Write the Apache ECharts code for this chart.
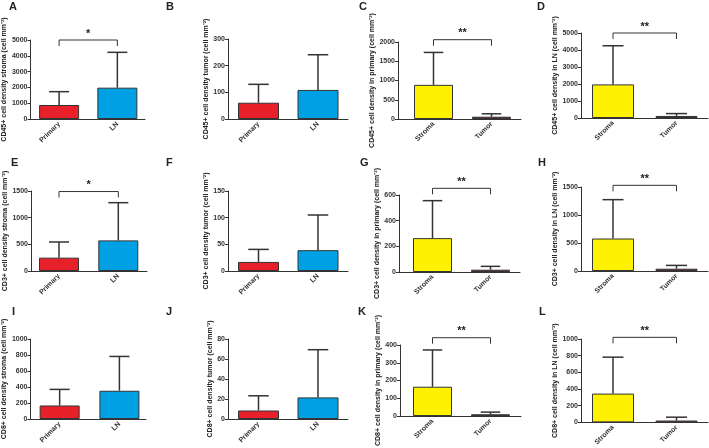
<!DOCTYPE html>
<html>
<head>
<meta charset="utf-8">
<script src="https://cdn.jsdelivr.net/npm/echarts@6/dist/echarts.min.js"></script>
<style>html,body{margin:0;padding:0;background:#fff}#c{width:709px;height:448px}</style>
</head>
<body>
<div id="c"></div>
<script>
// ---- data ----
const panelLetters = ['A','B','C','D','E','F','G','H','I','J','K','L'];
const catsSite = ['Primary', 'LN'];
const catsComp = ['Stroma', 'Tumor'];
const panelCats = [catsSite, catsSite, catsComp, catsComp, catsSite, catsSite, catsComp, catsComp, catsSite, catsSite, catsComp, catsComp];
const yTitles = [
  'CD45+ cell density stroma (cell mm⁻²)', 'CD45+ cell density tumor (cell mm⁻²)',
  'CD45+ cell density in primary (cell mm⁻²)', 'CD45+ cell density in LN (cell mm⁻²)',
  'CD3+ cell density stroma (cell mm⁻²)', 'CD3+ cell density tumor (cell mm⁻²)',
  'CD3+ cell density in primary (cell mm⁻²)', 'CD3+ cell density in LN (cell mm⁻²)',
  'CD8+ cell density stroma (cell mm⁻²)', 'CD8+ cell density tumor (cell mm⁻²)',
  'CD8+ cell density in primary (cell mm⁻²)', 'CD8+ cell density in LN (cell mm⁻²)'
];
const yMax = [5000, 300, 2000, 5000, 1500, 150, 600, 1500, 1000, 80, 400, 1000];
const yInterval = [1000, 100, 500, 1000, 500, 50, 200, 500, 200, 20, 100, 200];
const means = [[886, 1983], [61, 109], [887, 60], [1977, 120], [250, 574], [17, 39], [264, 18], [580, 41], [169, 353], [8.5, 21.6], [165, 10], [345, 22]];
const errTops = [[1730, 4220], [130, 241], [1729, 135], [4250, 260], [544, 1281], [40.5, 105], [556, 44], [1274, 100], [370, 782], [23.2, 69.3], [372, 22], [782, 62]];
const sigLevel = [5000, null, 2060, 5000, 1490, null, 652, 1530, null, null, 441, 1020];
const sigText = ['*', '', '**', '**', '*', '', '**', '**', '', '', '**', '**'];

// ---- layout (pixels) ----
const layout = [
  {left:29, right:145, c0:58, c1:117, top:40, bottom:119, barW:40, gap:19},
  {left:228, right:348, c0:258.5, c1:318, top:39, bottom:119, barW:41, gap:12.5},
  {left:398, right:521, c0:433.5, c1:491.5, top:42, bottom:119, barW:39, gap:11.5},
  {left:581, right:708, c0:613, c1:676.5, top:33, bottom:118, barW:42, gap:20},
  {left:31, right:147, c0:59, c1:118.3, top:191, bottom:271, barW:40, gap:20},
  {left:228, right:348, c0:258.5, c1:318, top:191, bottom:271, barW:41, gap:14},
  {left:399, right:520, c0:432.5, c1:490.5, top:195, bottom:272, barW:39, gap:12},
  {left:581, right:708, c0:613, c1:676.5, top:187, bottom:271, barW:42, gap:20},
  {left:30, right:146, c0:59.3, c1:119.3, top:339, bottom:419, barW:40, gap:19},
  {left:228, right:348, c0:258.5, c1:318, top:339, bottom:419, barW:41, gap:12.5},
  {left:400, right:521, c0:432.5, c1:490.5, top:345, bottom:422, barW:39, gap:14},
  {left:581, right:708, c0:613, c1:676.5, top:339, bottom:423, barW:42, gap:20}
];
const letterPos = [[9,1],[166,1],[359,1],[537,1],[11,157],[166,157],[360,157],[538,157],[12,306],[166,306],[358,306],[539,306]];
const colorsSite = ['#e8202a', '#00a1e4'];
const colorsComp = ['#fff200', '#9b1b20'];
const FONT = '"Liberation Sans", Arial, sans-serif';
const W = 709, H = 448;

const grids = [], xAxes = [], yAxes = [], series = [], titles = [];
layout.forEach((L, i) => {
  const cats = panelCats[i];
  const cols = cats === catsSite ? colorsSite : colorsComp;
  const sp = L.c1 - L.c0;
  grids.push({left: L.left, top: L.top, width: L.right - L.left, height: L.bottom - L.top, containLabel: false});
  xAxes.push({
    type: 'value', gridIndex: i,
    min: (L.left - L.c0) / sp, max: (L.right - L.c0) / sp,
    splitLine: {show: false},
    axisLine: {show: true, onZero: false, lineStyle: {color: '#333', width: 1}},
    axisTick: {show: false},
    axisLabel: {
      customValues: [0, 1], rotate: 45, margin: 4,
      formatter: v => cats[Math.round(v)],
      fontSize: 7, fontWeight: 'bold', color: '#333', fontFamily: FONT
    }
  });
  yAxes.push({
    type: 'value', gridIndex: i, min: 0, max: yMax[i], interval: yInterval[i],
    splitLine: {show: false},
    axisLine: {show: true, onZero: false, lineStyle: {color: '#333', width: 1}},
    axisTick: {show: true, length: 3, lineStyle: {color: '#333'}},
    axisLabel: {margin: 3, fontSize: 7, fontWeight: 'bold', color: '#333', fontFamily: FONT, formatter: v => String(v)},
    name: yTitles[i], nameLocation: 'middle', nameGap: L.gap, nameRotate: 90,
    nameTextStyle: {fontSize: 7, fontWeight: 'bold', color: '#222', fontFamily: FONT}
  });
  series.push({
    type: 'bar', xAxisIndex: i, yAxisIndex: i, barWidth: L.barW,
    data: means[i].map((v, k) => ({value: [k, v], itemStyle: {color: cols[k]}})),
    itemStyle: {borderColor: '#333', borderWidth: 1},
    silent: true
  });
  series.push({
    type: 'custom', xAxisIndex: i, yAxisIndex: i, clip: false, silent: true, z: 3,
    data: means[i].map((v, k) => [k, v, errTops[i][k]]),
    renderItem: (params, api) => {
      const p0 = api.coord([api.value(0), api.value(1)]);
      const p1 = api.coord([api.value(0), api.value(2)]);
      const hw = L.barW / 4;
      const st = {stroke: '#333', lineWidth: 1.5};
      return {type: 'group', children: [
        {type: 'line', shape: {x1: p0[0], y1: p0[1], x2: p1[0], y2: p1[1]}, style: st},
        {type: 'line', shape: {x1: p1[0] - hw, y1: p1[1], x2: p1[0] + hw, y2: p1[1]}, style: st}
      ]};
    }
  });
  if (sigLevel[i] != null) {
    const txt = sigText[i];
    series.push({
      type: 'custom', xAxisIndex: i, yAxisIndex: i, clip: false, silent: true, z: 3,
      data: [[0, 1, sigLevel[i]]],
      renderItem: (params, api) => {
        const a = api.coord([api.value(0), api.value(2)]);
        const b = api.coord([api.value(1), api.value(2)]);
        return {type: 'group', children: [
          {type: 'polyline', shape: {points: [[a[0], a[1] + 6], a, b, [b[0], b[1] + 6]]}, style: {stroke: '#333', lineWidth: 1, fill: null}},
          {type: 'text', x: (a[0] + b[0]) / 2, y: a[1] - 1, style: {text: txt, fontSize: 11, fontWeight: 'bold', fill: '#222', align: 'center', verticalAlign: 'bottom', fontFamily: FONT}}
        ]};
      }
    });
  }
  titles.push({text: panelLetters[i], left: letterPos[i][0], top: letterPos[i][1], padding: 0,
    textStyle: {fontSize: 11, fontWeight: 'bold', color: '#222', fontFamily: FONT}});
});

const chart = echarts.init(document.getElementById('c'), null, {renderer: 'canvas', width: W, height: H});
chart.setOption({
  animation: false,
  backgroundColor: '#fff',
  title: titles,
  grid: grids, xAxis: xAxes, yAxis: yAxes, series: series
});
</script>
</body>
</html>
